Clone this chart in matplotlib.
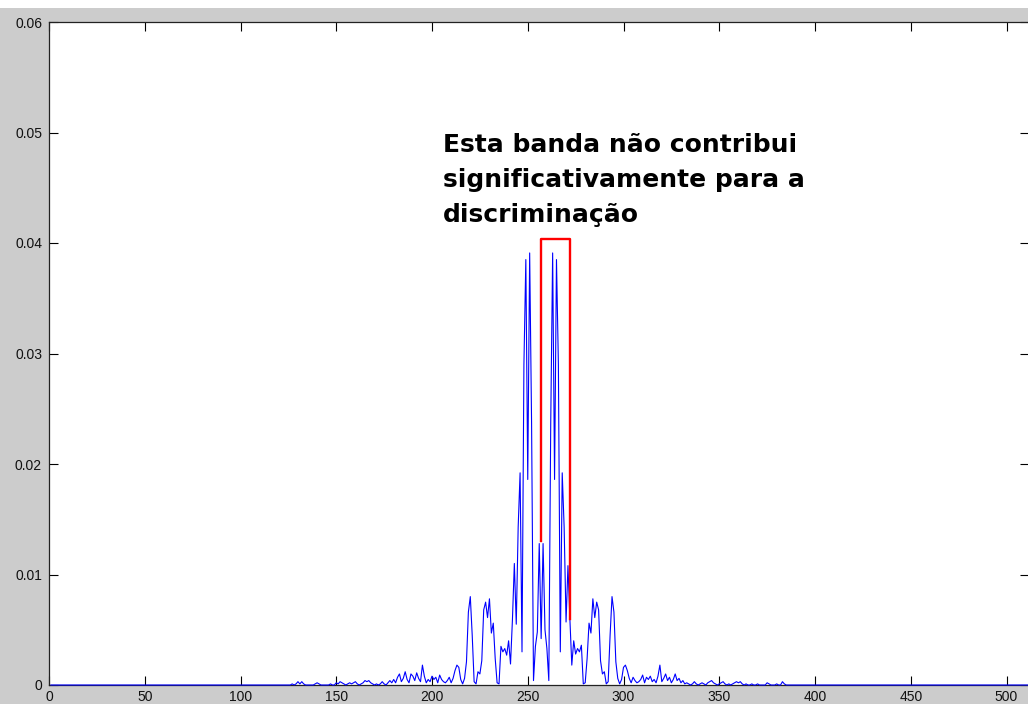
import numpy as np
import matplotlib
matplotlib.use('Agg')
import matplotlib.pyplot as plt
from matplotlib.patches import Rectangle

# spectrum magnitude, sample index 1..512
n_points = 512
spec_start = 125
spec_vals = [
    # 125-189
    0.0, 0.0, 0.0001, 0.0, 0.0001, 0.0003, 0.0001, 0.0003, 0.0001, 0.0,
    0.0, 0.0, 0.0, 0.0, 0.0001, 0.0002, 0.0001, 0.0, 0.0, 0.0,
    0.0, 0.0, 0.0001, 0.0, 0.0, 0.0002, 0.0001, 0.0003, 0.0002, 0.0001,
    0.0, 0.0001, 0.0002, 0.0001, 0.0002, 0.0003, 0.0001, 0.0, 0.0001, 0.0002,
    0.0004, 0.0003, 0.0004, 0.0002, 0.0001, 0.0, 0.0001, 0.0, 0.0001, 0.0003,
    0.0001, 0.0, 0.0002, 0.0004, 0.0002, 0.0005, 0.0002, 0.0007, 0.0010, 0.0003,
    0.0006, 0.0012, 0.0005, 0.0002, 0.0010,
    # 190-257
    0.0008, 0.0004, 0.0011, 0.0006, 0.0003, 0.0018, 0.0008, 0.0002, 0.0005, 0.0003,
    0.0008, 0.0005, 0.0007, 0.0002, 0.0009, 0.0005, 0.0003, 0.0002, 0.0004, 0.0007,
    0.0002, 0.0006, 0.0013, 0.0018, 0.0016, 0.0005, 0.0001, 0.0006, 0.0021, 0.0066,
    0.0080, 0.0045, 0.0003, 0.0001, 0.0012, 0.0010, 0.0022, 0.0068, 0.0075, 0.0061,
    0.0078, 0.0047, 0.0056, 0.0024, 0.0002, 0.0001, 0.0035, 0.0030, 0.0033, 0.0027,
    0.0040, 0.0019, 0.0059, 0.0110, 0.0055, 0.0143, 0.0192, 0.0030, 0.0290, 0.0385,
    0.0186, 0.0391, 0.0237, 0.0004, 0.0035, 0.0048, 0.0128, 0.0042,
    # 258-319
    0.0128, 0.0050, 0.0033, 0.0004, 0.0237, 0.0391, 0.0186, 0.0385, 0.0290, 0.0030,
    0.0192, 0.0143, 0.0057, 0.0108, 0.0060, 0.0018, 0.0040, 0.0028, 0.0033, 0.0030,
    0.0036, 0.0001, 0.0002, 0.0024, 0.0056, 0.0047, 0.0078, 0.0061, 0.0075, 0.0068,
    0.0022, 0.0010, 0.0012, 0.0001, 0.0003, 0.0045, 0.0080, 0.0066, 0.0021, 0.0006,
    0.0001, 0.0005, 0.0016, 0.0018, 0.0013, 0.0006, 0.0002, 0.0007, 0.0004, 0.0002,
    0.0003, 0.0005, 0.0009, 0.0002, 0.0007, 0.0005, 0.0008, 0.0003, 0.0005, 0.0002,
    0.0008, 0.0018,
    # 320-395
    0.0003, 0.0006, 0.0010, 0.0004, 0.0007, 0.0002, 0.0005, 0.0010, 0.0004, 0.0006,
    0.0002, 0.0004, 0.0001, 0.0002, 0.0001, 0.0, 0.0001, 0.0003, 0.0001, 0.0,
    0.0001, 0.0002, 0.0001, 0.0, 0.0002, 0.0003, 0.0004, 0.0002, 0.0001, 0.0,
    0.0001, 0.0002, 0.0003, 0.0001, 0.0, 0.0001, 0.0, 0.0001, 0.0002, 0.0003,
    0.0002, 0.0003, 0.0001, 0.0, 0.0001, 0.0, 0.0, 0.0001, 0.0, 0.0,
    0.0001, 0.0, 0.0, 0.0, 0.0, 0.0002, 0.0001, 0.0, 0.0, 0.0,
    0.0001, 0.0, 0.0, 0.0003, 0.0001, 0.0, 0.0, 0.0, 0.0, 0.0,
    0.0, 0.0, 0.0, 0.0, 0.0, 0.0,
]

x_ticks = [0, 50, 100, 150, 200, 250, 300, 350, 400, 450, 500]
y_ticks = [0, 0.01, 0.02, 0.03, 0.04, 0.05, 0.06]
y_tick_labels = ['0', '0.01', '0.02', '0.03', '0.04', '0.05', '0.06']

# red bracket around the band (open at the bottom)
band_x = [257, 257, 272, 272]
band_y = [0.013, 0.0404, 0.0404, 0.006]

note = 'Esta banda não contribui\nsignificativamente para a\ndiscriminação'

spec = np.zeros(n_points)
spec[spec_start - 1:spec_start - 1 + len(spec_vals)] = spec_vals
idx = np.arange(1, n_points + 1)

plt.rcParams['font.family'] = ['Liberation Sans', 'DejaVu Sans']

W, H = 1028, 704
fig = plt.figure(figsize=(W / 100, H / 100), dpi=100, facecolor='#cccccc')
# thin white strip along the top of the screenshot
fig.patches.append(Rectangle((0, 1 - 8 / H), 1, 8 / H, transform=fig.transFigure,
                             facecolor='white', edgecolor='none'))

left, top, bottom = 49, 22, 685
ax = fig.add_axes([left / W, (H - bottom) / H, 512 * 1.915 / W, (bottom - top) / H])
ax.set_facecolor('white')

ax.plot(idx, spec, color='#0000ff', lw=0.8, zorder=3, clip_on=False)
ax.plot(band_x, band_y, color='#ff0000', lw=1.7, zorder=4)

ax.text(205.7, 0.0500, note, fontsize=18, fontweight='bold', ha='left', va='top',
        linespacing=1.6, color='black', family='DejaVu Sans')

ax.set_xlim(0, 512)
ax.set_ylim(0, 0.06)
ax.set_xticks(x_ticks)
ax.set_xticklabels([str(t) for t in x_ticks])
ax.set_yticks(y_ticks)
ax.set_yticklabels(y_tick_labels)
ax.tick_params(direction='in', length=6.5, width=0.8, top=True, right=True,
               labelsize=10, colors='black', labelcolor='#111111')
ax.tick_params(axis='y', pad=5)
ax.tick_params(axis='x', pad=3.5)
for s in ax.spines.values():
    s.set_linewidth(0.9)
    s.set_color('#222222')

fig.savefig('out.png', dpi=100, facecolor=fig.get_facecolor())
